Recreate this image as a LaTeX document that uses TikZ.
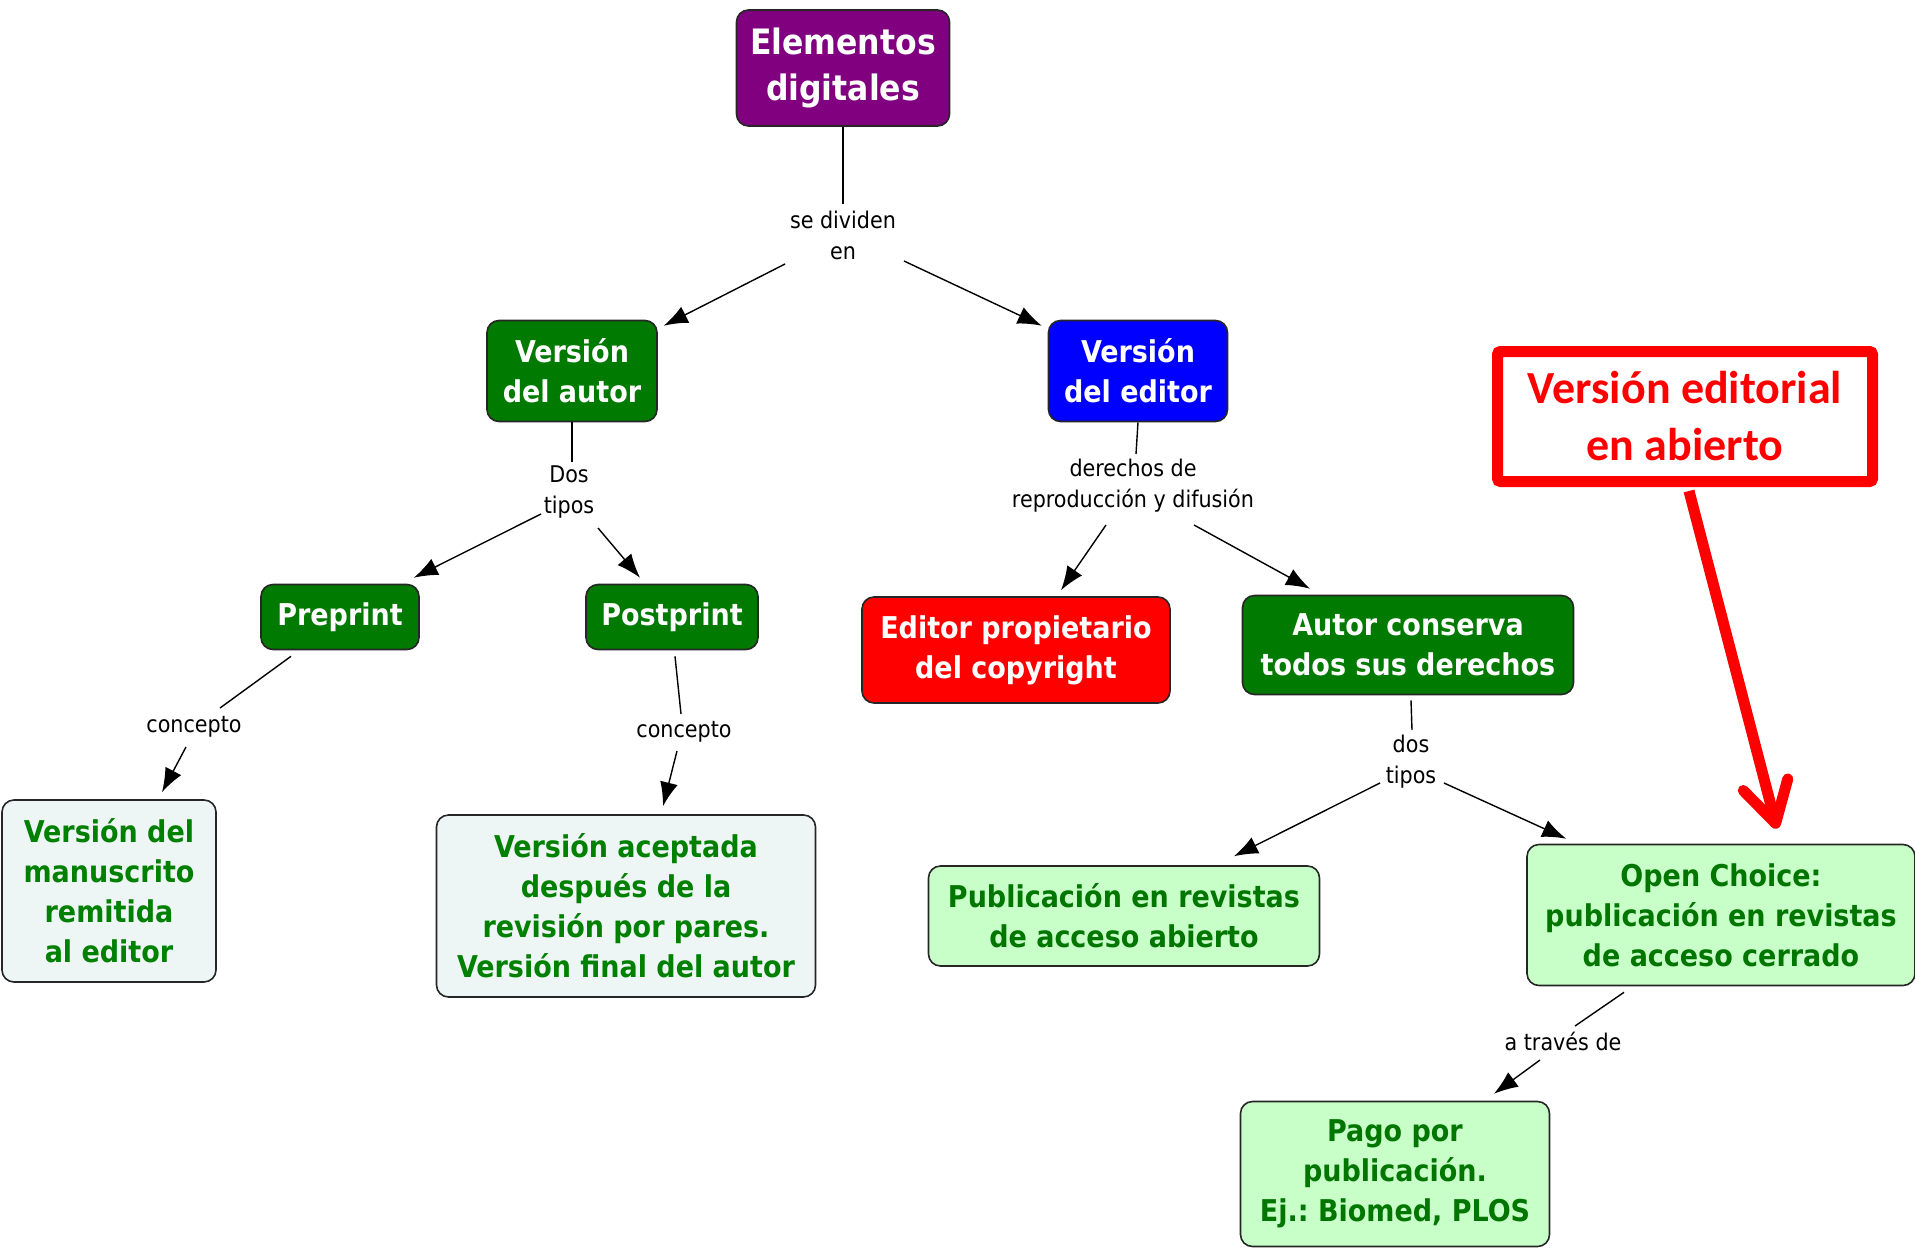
\documentclass[tikz,border=0pt]{standalone}
\usepackage{fontspec}
\newfontfamily\vfont{DejaVu Sans Condensed}
\newfontfamily\cfont{Carlito}
\usetikzlibrary{arrows.meta,calc}
\frenchspacing
\definecolor{cpurple}{RGB}{128,0,128}
\definecolor{cgreen}{RGB}{0,122,0}
\definecolor{cblue}{RGB}{0,0,255}
\definecolor{cred}{RGB}{255,0,0}
\definecolor{cpale}{RGB}{238,245,245}
\definecolor{clight}{RGB}{200,255,200}
\definecolor{ctxtgreen}{RGB}{0,128,0}
\definecolor{cdkgreen}{RGB}{0,118,0}
\tikzset{
  box/.style={draw=black!85, line width=1.6pt, rounded corners=12pt, align=center, inner sep=0pt,
    font=\vfont\bfseries\fontsize{30}{40}\selectfont},
  darkbox/.style={box, fill=#1, text=white},
  palebox/.style={box, fill=cpale, text=ctxtgreen},
  lightbox/.style={box, fill=clight, text=cdkgreen},
  lbl/.style={font=\vfont\fontsize{23}{31}\selectfont, align=center, inner sep=2pt},
  link/.style={line width=1.4pt},
  conn/.style={line width=1.4pt, -{Latex[length=24pt,width=18pt]}},
}
\begin{document}
\begin{tikzpicture}[x=1pt,y=-1pt]
\useasboundingbox (0,0) rectangle (1915,1251);
\fill[white] (0,0) rectangle (1915,1251);
% nodes
\node[darkbox=cpurple, minimum width=213pt, minimum height=116pt,
  font=\vfont\bfseries\fontsize{35}{46}\selectfont] (top) at (843,68) {Elementos\\digitales};
\node[lbl] (lbl1) at (843,235) {se dividen\\en};
\node[darkbox=cgreen, minimum width=170pt, minimum height=101pt] (vautor) at (572,371) {Versión\\del autor};
\node[darkbox=cblue, minimum width=179pt, minimum height=101pt] (veditor) at (1138,371) {Versión\\del editor};
\node[lbl] (lbl2) at (569,492) {Dos\\tipos};
\node[lbl] (lbl3) at (1133,486) {derechos de\\reproducción y difusión};
\node[darkbox=cgreen, minimum width=158pt, minimum height=65pt] (preprint) at (340,617) {Preprint};
\node[darkbox=cgreen, minimum width=172pt, minimum height=65pt] (postprint) at (672,617) {Postprint};
\node[darkbox=cred, minimum width=308pt, minimum height=106pt] (editorprop) at (1016,650) {Editor propietario\\del copyright};
\node[darkbox=cgreen, minimum width=331pt, minimum height=99pt] (autorcons) at (1408,645) {Autor conserva\\todos sus derechos};
\node[lbl] (lbl4) at (194,727) {concepto};
\node[lbl] (lbl5) at (684,732) {concepto};
\node[palebox, minimum width=214pt, minimum height=182pt] (manus) at (109,891) {Versión del\\manuscrito\\remitida\\al editor};
\node[palebox, minimum width=379pt, minimum height=182pt] (aceptada) at (626,906) {Versión aceptada\\después de la\\revisión por pares.\\Versión final del autor};
\node[lbl] (lbl6) at (1411,762) {dos\\tipos};
\node[lightbox, minimum width=391pt, minimum height=100pt] (pubabierto) at (1124,916) {Publicación en revistas\\de acceso abierto};
\node[lightbox, minimum width=388pt, minimum height=141pt] (openchoice) at (1721,915) {Open Choice:\\publicación en revistas\\de acceso cerrado};
\node[lbl] (lbl7) at (1563,1041) {a través de};
\node[lightbox, minimum width=309pt, minimum height=145pt] (pago) at (1395,1174) {Pago por\\publicación.\\Ej.: Biomed, PLOS};
\node[draw=cred, line width=11pt, rounded corners=3pt, minimum width=375pt, minimum height=130pt,
  inner sep=0pt, align=center, text=cred, font=\cfont\bfseries\fontsize{46}{57}\selectfont] (callout) at (1685,416.5) {Versión editorial\\en abierto};
% connectors
\draw[link] (top.south) -- ($(lbl1.center)+(0,-31)$);
\draw[conn] ($(lbl1.center)+(-58,29)$) -- ($(vautor.north east)+(6,6)$);
\draw[conn] ($(lbl1.center)+(61,26)$) -- ($(veditor.north west)+(-6,6)$);
\draw[link] (vautor.south) -- ($(lbl2.center)+(3,-30)$);
\draw[conn] ($(lbl2.center)+(-28,22)$) -- ($(preprint.north east)+(-6,-6)$);
\draw[conn] ($(lbl2.center)+(29,36)$) -- ($(postprint.north)+(-32,-6)$);
\draw[link] (veditor.south) -- ($(lbl3.center)+(3,-32)$);
\draw[conn] ($(lbl3.center)+(-27,39)$) -- ($(editorprop.north)+(45,-6)$);
\draw[conn] ($(lbl3.center)+(61,39)$) -- ($(autorcons.north)+(-98,-6)$);
\draw[link] ($(preprint.south)+(-49,6)$) -- ($(lbl4.center)+(26,-19)$);
\draw[conn] ($(lbl4.center)+(-8,20)$) -- ($(manus.north)+(53,-7)$);
\draw[link] ($(postprint.south)+(3,6)$) -- ($(lbl5.center)+(-3,-18)$);
\draw[conn] ($(lbl5.center)+(-7,19)$) -- ($(aceptada.north)+(37,-8)$);
\draw[link] ($(autorcons.south)+(3,5)$) -- ($(lbl6.center)+(1,-32)$);
\draw[conn] ($(lbl6.center)+(-31,21)$) -- ($(pubabierto.north)+(110,-9)$);
\draw[conn] ($(lbl6.center)+(33,21)$) -- ($(openchoice.north west)+(40,-5)$);
\draw[link] ($(openchoice.south)+(-97,6)$) -- ($(lbl7.center)+(12,-15)$);
\draw[conn] ($(lbl7.center)+(-23,19)$) -- ($(pago.north)+(99,-7)$);
\draw[cred, line width=11pt, -{Straight Barb[length=40pt,width=46pt,round]}]
  ($(callout.south)+(4,4)$) -- ($(openchoice.north)+(56,-15)$);
\end{tikzpicture}
\end{document}
